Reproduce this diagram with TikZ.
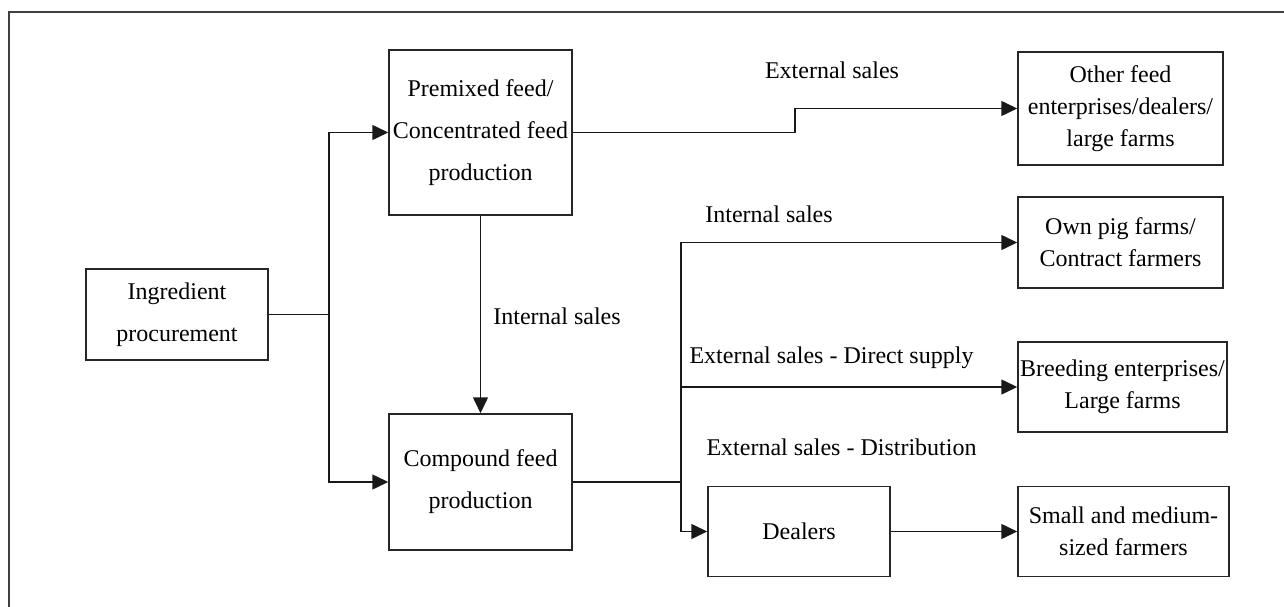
\documentclass[tikz,border=0pt]{standalone}
\usepackage{fontspec}
\setmainfont{Liberation Serif}
\usetikzlibrary{arrows.meta}
\begin{document}
\begin{tikzpicture}[x=1pt,y=-1pt,
  box/.style={draw=black!85,line width=1.5pt,rectangle,inner sep=0pt,align=center,text=black},
  lbox/.style={box,font=\fontsize{24}{42}\selectfont},
  rbox/.style={box,font=\fontsize{24}{32}\selectfont},
  lab/.style={inner sep=0pt,font=\fontsize{24}{30}\selectfont},
  conn/.style={line width=1.5pt,draw=black!90},
  arr/.style={conn,-{Triangle[length=16pt,width=15pt]}}]
\useasboundingbox (0,0) rectangle (1284,607);
\draw[line width=1.8pt,draw=black!75] (9,607) -- (9,12) -- (1284,12);

\node[lbox,minimum width=182pt,minimum height=91pt] (ing) at (177,314.5) {Ingredient\\procurement};
\node[lbox,minimum width=183pt,minimum height=165pt] (pre) at (480.5,132.5) {Premixed feed/\\Concentrated feed\\production};
\node[lbox,minimum width=183pt,minimum height=136pt] (comp) at (480.5,482) {Compound feed\\production};
\node[rbox,minimum width=205pt,minimum height=113pt] (other) at (1120.5,108.5) {Other feed\\enterprises/dealers/\\large farms};
\node[rbox,minimum width=205pt,minimum height=91pt] (own) at (1120.5,242.5) {Own pig farms/\\Contract farmers};
\node[rbox,minimum width=209pt,minimum height=90pt] (breed) at (1122.5,387) {Breeding enterprises/\\Large farms};
\node[lbox,minimum width=182pt,minimum height=90pt] (deal) at (799,531.5) {Dealers};
\node[rbox,minimum width=211pt,minimum height=90pt] (small) at (1123.5,531.5) {Small and medium-\\sized farmers};

\coordinate (j1) at (329,314.5);
\coordinate (j2) at (681,482);
\coordinate (e1) at (795,132.5);

\draw[conn] (ing.east) -- (j1);
\draw[arr] (j1) |- (pre.west);
\draw[arr] (j1) |- (comp.west);
\draw[arr] (pre.south) -- (comp.north);
\draw[arr] (pre.east) -- (e1) |- (other.west);
\draw[conn] (comp.east) -- (j2);
\draw[arr] (j2) |- (own.west);
\draw[arr] (j2) |- (breed.west);
\draw[arr] (j2) |- (deal.west);
\draw[arr] (deal.east) -- (small.west);

\node[lab] (l1) at (832,70) {External sales};
\node[lab] (l2) at (769,214) {Internal sales};
\node[lab] (l3) at (557,316) {Internal sales};
\node[lab] (l4) at (831.5,358) {External sales - Direct supply};
\node[lab] (l5) at (841.5,447) {External sales - Distribution};
\end{tikzpicture}
\end{document}
